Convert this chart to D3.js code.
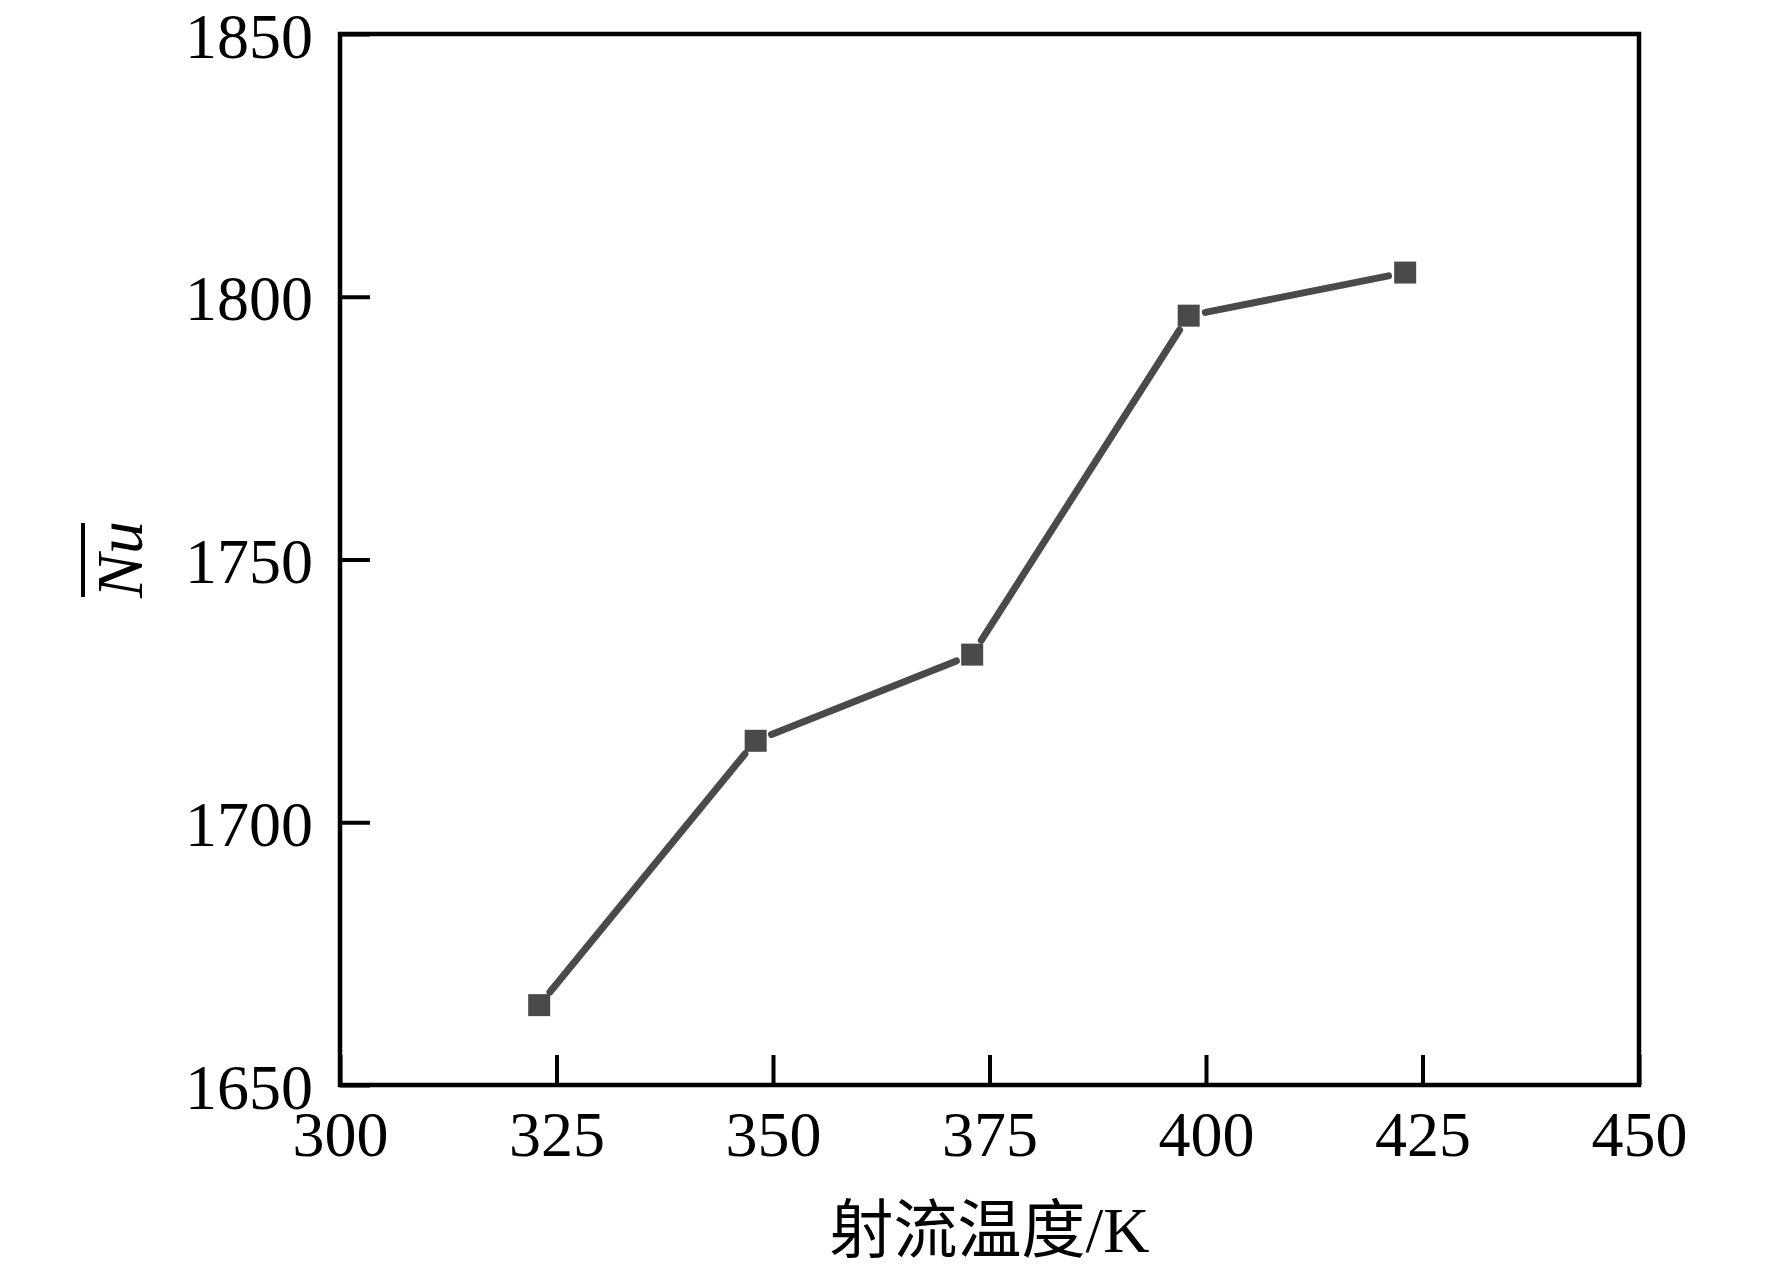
<!DOCTYPE html>
<html>
<head>
<meta charset="utf-8">
<script src="https://cdn.jsdelivr.net/npm/d3@7/dist/d3.min.js"></script>
<style>
  html, body { margin: 0; padding: 0; background: #fff; }
  svg { display: block; }
  text { font-family: "Liberation Serif", "Times New Roman", "Noto Sans CJK SC", serif; fill: #000; }
</style>
</head>
<body>
<svg id="chart" width="1772" height="1281"></svg>
<script>
// ---- data ----
const temperatures = [323, 348, 373, 398, 423];           // 射流温度 / K
const nuValues     = [1665.2, 1715.5, 1731.9, 1796.4, 1804.6]; // mean Nu
const xTicks = [300, 325, 350, 375, 400, 425, 450];
const yTicks = [1650, 1700, 1750, 1800, 1850];
const xLabel = "射流温度/K";
const yLabel = "Nu";

// ---- layout ----
const W = 1772, H = 1281;
const L = 340, R = 1639, T = 34, B = 1085;

const svg = d3.select("#chart");
const x = d3.scaleLinear().domain([300, 450]).range([L, R]);
const y = d3.scaleLinear().domain([1650, 1850]).range([B, T]);

const axisColor = "#000";
const tickLen = 30;
const fontSize = 64;

// x axis (ticks inward)
const gx = svg.append("g").attr("transform", `translate(0,${B})`)
  .call(d3.axisBottom(x).tickValues(xTicks).tickSizeInner(-tickLen).tickSizeOuter(0).tickPadding(26).tickFormat(d3.format("d")));
gx.select(".domain").remove();
gx.selectAll(".tick line").attr("stroke", axisColor).attr("stroke-width", 4);
gx.selectAll(".tick text").attr("font-size", fontSize).attr("dy", "0.71em")
  .attr("font-family", "'Liberation Serif', serif").attr("fill", "#000");

// y axis (ticks inward)
const gy = svg.append("g").attr("transform", `translate(${L},0)`)
  .call(d3.axisLeft(y).tickValues(yTicks).tickSizeInner(-tickLen).tickSizeOuter(0).tickPadding(27).tickFormat(d3.format("d")));
gy.select(".domain").remove();
gy.selectAll(".tick line").attr("stroke", axisColor).attr("stroke-width", 4);
gy.selectAll(".tick text").attr("font-size", fontSize).attr("dy", "0.36em")
  .attr("font-family", "'Liberation Serif', serif").attr("fill", "#000");

// frame
svg.append("rect")
  .attr("x", L).attr("y", T).attr("width", R - L).attr("height", B - T)
  .attr("fill", "none").attr("stroke", axisColor).attr("stroke-width", 4.5);

// data line segments with gaps near markers
const pts = temperatures.map((t, i) => [x(t), y(nuValues[i])]);
const gap = 17;
const segs = [];
for (let i = 0; i < pts.length - 1; i++) {
  const [x1, y1] = pts[i], [x2, y2] = pts[i + 1];
  const dx = x2 - x1, dy = y2 - y1, len = Math.hypot(dx, dy);
  const ux = dx / len, uy = dy / len;
  segs.push([[x1 + ux * gap, y1 + uy * gap], [x2 - ux * gap, y2 - uy * gap]]);
}
const lineGen = d3.line();
svg.append("g").selectAll("path").data(segs).join("path")
  .attr("d", d => lineGen(d))
  .attr("fill", "none").attr("stroke", "#4a4a4a").attr("stroke-width", 7)
  .attr("stroke-linecap", "round");

// square markers
const ms = 22;
svg.append("g").selectAll("rect").data(temperatures).join("rect")
  .attr("x", (d) => x(d) - ms / 2)
  .attr("y", (d, i) => y(nuValues[i]) - ms / 2)
  .attr("width", ms).attr("height", ms)
  .attr("fill", "#4a4a4a");

// x axis title
svg.append("text")
  .attr("x", (L + R) / 2).attr("y", 1252)
  .attr("text-anchor", "middle")
  .attr("font-size", 64)
  .style("font-family", "'Liberation Serif', 'Noto Sans CJK SC', serif")
  .text(xLabel);

// y axis title: italic Nu with overline
const yg = svg.append("g").attr("transform", `translate(142,${(T + B) / 2}) rotate(-90)`);
const yt = yg.append("text")
  .attr("x", 0).attr("y", 0)
  .attr("text-anchor", "middle")
  .attr("font-size", 66)
  .attr("font-style", "italic")
  .text(yLabel);
const bb = yt.node().getBBox();
yg.append("line")
  .attr("x1", bb.x + 2).attr("x2", bb.x + bb.width - 2)
  .attr("y1", -59).attr("y2", -59)
  .attr("stroke", "#000").attr("stroke-width", 4);
</script>
</body>
</html>
